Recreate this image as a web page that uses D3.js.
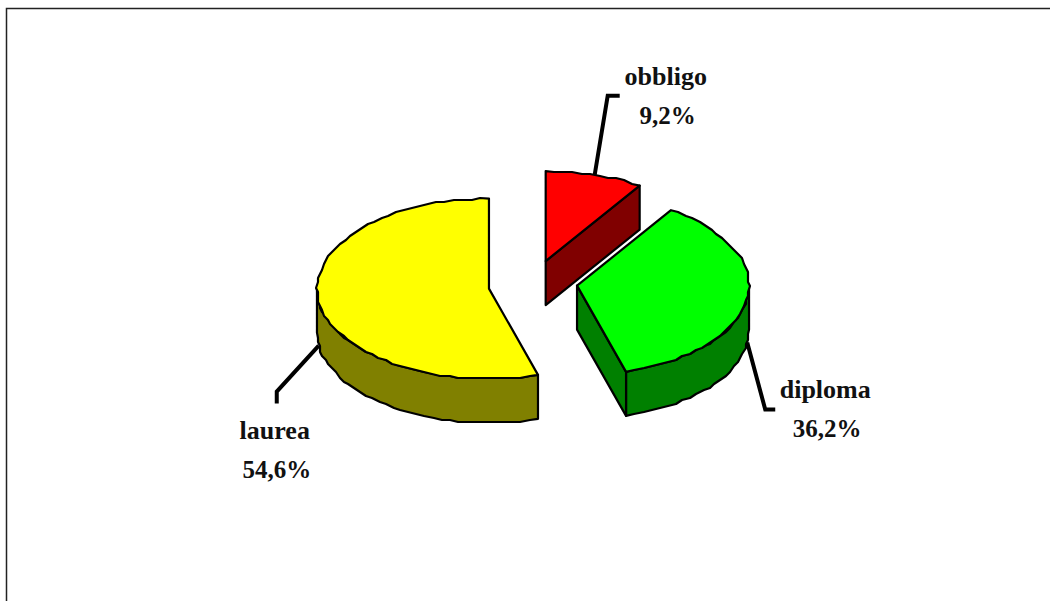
<!DOCTYPE html>
<html>
<head>
<meta charset="utf-8">
<script src="https://cdn.jsdelivr.net/npm/d3@7"></script>
<style>
  html, body { margin: 0; padding: 0; background: #fff; }
  svg { display: block; }
  text { font-family: "Liberation Serif", serif; font-weight: bold; font-size: 26px; fill: #111; }
  text.pct { font-size: 25px; }
</style>
</head>
<body>
<div id="chart"></div>
<script>
const categories = ["obbligo", "diploma", "laurea"];
const shares = [9.2, 36.2, 54.6];
const topColors = ["#ff0000", "#00ff00", "#ffff00"];
const sideColors = ["#800000", "#008000", "#808000"];

let width = 1050;
let height = 601;

let cx = 533, cy = 285;   // pie centre before the slices are pulled out
let rx = 172, ry = 90;
let depth = 44;
let explodeX = 44.5, explodeY = 25;
let nudgeY = [0, -3, 0];  // the original slices don't sit exactly on the ellipse

// leader elbow and end, relative to where it leaves the slice
let leaders = [
    { onSide: false, elbow: [13, -79], end: [25, -79], label: [71, -90] },
    { onSide: true, elbow: [18, 67], end: [28, 67], label: [78, 55] },
    { onSide: true, elbow: [-42, 46], end: [-42, 58], label: [-44, 93] }
];

const fmt = d3.formatLocale({ decimal: ",", thousands: ".", grouping: [3], currency: ["", ""] }).format(".1f");

// angle measured clockwise from 12 o'clock
const slices = d3.pie().sort(null).value(d => d)(shares);

const ux = d3.scaleLinear().domain([-1, 1]).range([-rx, rx]);
const uy = d3.scaleLinear().domain([-1, 1]).range([-ry, ry]);

slices.forEach((s, i) => {
    const mid = (s.startAngle + s.endAngle) / 2;
    s.mid = mid;
    s.x = cx + Math.sin(mid) * explodeX;
    s.y = cy - Math.cos(mid) * explodeY + nudgeY[i];
});

function rimPoint(s, a) {
    return [s.x + ux(Math.sin(a)), s.y + uy(-Math.cos(a))];
}

// the source picture has a lumpy low-res edge, so snap the rim to a coarse grid
function rough(p) {
    return [Math.round(p[0] / 2) * 2, Math.round(p[1] / 2) * 2];
}

function rim(s, a0, a1) {
    const step = Math.PI / 60;
    const n = Math.max(1, Math.round((a1 - a0) / step));
    return d3.range(n + 1).map(k => {
        const p = rimPoint(s, a0 + (a1 - a0) * k / n);
        return k === 0 || k === n ? p : rough(p);
    });
}

const line = d3.line();
const drop = p => [p[0], p[1] + depth];

let svg = d3.select("#chart").append("svg")
    .attr("width", width)
    .attr("height", height);

// frame, only top and left edges show
svg.append("path")
    .attr("d", line([[6.5, height], [6.5, 8.5], [width, 8.5]]))
    .attr("fill", "none")
    .attr("stroke", "#222")
    .attr("stroke-width", 1.5);

// leaders
slices.forEach((s, i) => {
    const l = leaders[i];
    const start = rimPoint(s, s.mid);
    if (l.onSide) start[1] += depth;
    s.start = start;
    svg.append("path")
        .attr("d", line([start, [start[0] + l.elbow[0], start[1] + l.elbow[1]], [start[0] + l.end[0], start[1] + l.end[1]]]))
        .attr("fill", "none")
        .attr("stroke", "#000")
        .attr("stroke-width", 4);
});

const face = (d, fill) => svg.append("path")
    .attr("d", d)
    .attr("fill", fill)
    .attr("stroke", "#000")
    .attr("stroke-width", 2.2)
    .attr("stroke-linejoin", "round");

slices.forEach((s, i) => {
    const apex = [s.x, s.y];
    const a0 = s.startAngle, a1 = s.endAngle;
    const top = rim(s, a0, a1);

    // outer wall, only the front half of the ellipse
    const f0 = Math.max(a0, Math.PI / 2), f1 = Math.min(a1, 3 * Math.PI / 2);
    if (f1 > f0) {
        const front = rim(s, f0, f1);
        face(line(front.concat(front.slice().reverse().map(drop))) + "Z", sideColors[i]);
    }

    // cut faces that turn toward the viewer
    if (a1 < Math.PI) {
        const e = rimPoint(s, a1);
        face(line([apex, e, drop(e), drop(apex)]) + "Z", sideColors[i]);
    }
    if (a0 > Math.PI) {
        const e = rimPoint(s, a0);
        face(line([apex, e, drop(e), drop(apex)]) + "Z", sideColors[i]);
    }

    face(line([apex].concat(top)) + "Z", topColors[i]);
});

// labels
slices.forEach((s, i) => {
    const l = leaders[i];
    const g = svg.append("g")
        .attr("transform", `translate(${s.start[0] + l.label[0]},${s.start[1] + l.label[1]})`)
        .attr("text-anchor", "middle");
    g.append("text").text(categories[i]);
    g.append("text").attr("class", "pct").attr("x", 2).attr("y", 39).text(fmt(shares[i]) + "%");
});
</script>
</body>
</html>
